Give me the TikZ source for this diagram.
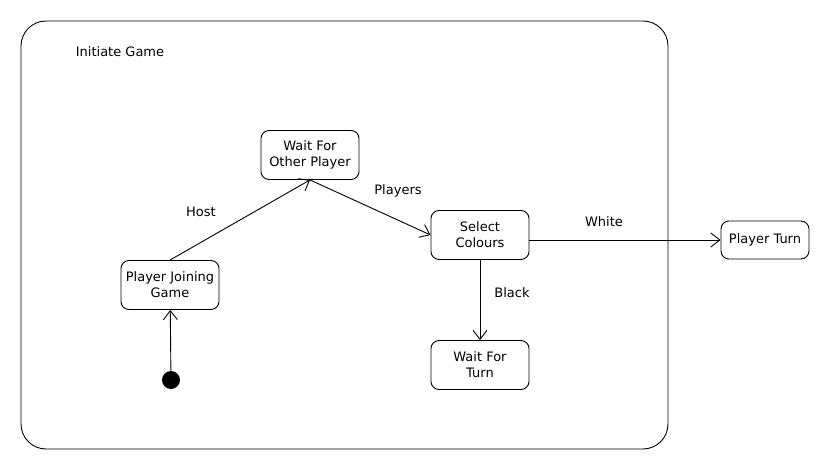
\documentclass[tikz,border=0pt]{standalone}
\usepackage{fontspec}
\setsansfont{DejaVu Sans}
\usetikzlibrary{arrows.meta}

\begin{document}
\begin{tikzpicture}[x=1pt,y=-1pt,
    state/.style={draw,rounded corners=8pt,align=center,minimum width=98pt,minimum height=49pt,inner sep=2pt},
    trans/.style={-{Straight Barb[length=9pt,width=14pt]}},
    lbl/.style={inner sep=0pt},
    every node/.style={font=\sffamily\fontsize{13}{16}\selectfont},
    line width=0.9pt]
   \useasboundingbox (0,0) rectangle (830,470);

   % composite state
   \draw[rounded corners=25pt] (21,21) rectangle (668,449);
   \node[lbl] (title) at (120,52) {Initiate Game};

   % states
   \node[state] (wait) at (310,155) {Wait For\\Other Player};
   \node[state] (join) at (170,285) {Player Joining\\Game};
   \node[state] (sel) at (480,235) {Select\\Colours};
   \node[state] (wft) at (480,365) {Wait For\\Turn};
   \node[state,minimum width=88pt,minimum height=38pt] (turn) at (765,240) {Player Turn};
   \node[circle,fill,inner sep=0pt,minimum size=18pt] (init) at (171,380) {};

   % transitions
   \draw[trans] (init) -- (join);
   \draw[trans] (join.north) -- (wait.south);
   \draw[trans] (wait.south) -- (sel.west);
   \draw[trans] (turn.west -| sel.east) -- (turn.west);
   \draw[trans] (sel) -- (wft);

   %\draw[help lines] (0,0) grid (830,470);
   \node[lbl] (host) at (201,212) {Host};
   \node[lbl] (players) at (398,191) {Players};
   \node[lbl] (white) at (604,222) {White};
   \node[lbl] (black) at (512,293) {Black};
\end{tikzpicture}
\end{document}
